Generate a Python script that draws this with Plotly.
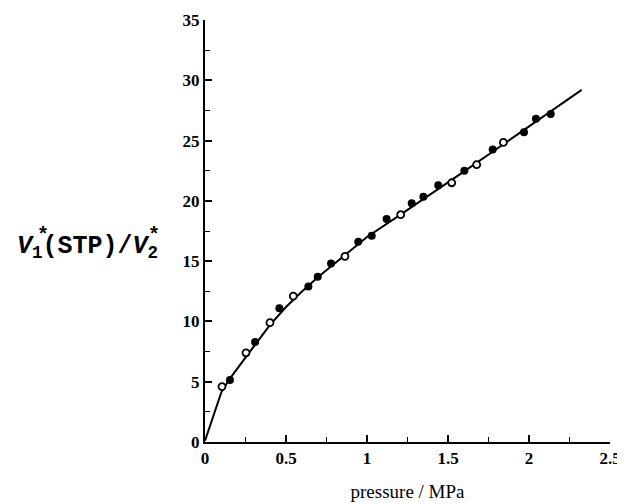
import plotly.graph_objects as go

# filled-circle data
p_filled = [0.154, 0.309, 0.459, 0.638, 0.696, 0.778, 0.946, 1.029, 1.121, 1.276,
            1.348, 1.440, 1.601, 1.776, 1.969, 2.043, 2.134]
v_filled = [5.15, 8.3, 11.1, 12.9, 13.7, 14.8, 16.6, 17.1, 18.5, 19.8,
            20.35, 21.3, 22.5, 24.25, 25.7, 26.8, 27.2]

# open-circle data
p_open = [0.105, 0.253, 0.401, 0.545, 0.864, 1.208, 1.523, 1.677, 1.842]
v_open = [4.6, 7.4, 9.9, 12.1, 15.4, 18.85, 21.5, 23.0, 24.85]

# fitted curve
p_curve = [0.0, 0.05, 0.1, 0.15, 0.2, 0.3, 0.4, 0.5, 0.6, 0.7, 0.8, 0.9, 1.0,
           1.2, 1.4, 1.6, 1.8, 2.0, 2.2, 2.325]
v_curve = [0.1, 2.1, 4.1, 5.2, 6.1, 7.9, 9.7, 11.2, 12.5, 13.7, 14.8, 15.9, 17.0,
           18.8, 20.6, 22.45, 24.3, 26.15, 28.0, 29.2]

x_ticks = [0, 0.5, 1, 1.5, 2, 2.5]
x_ticklabels = ["0", "0.5", "1", "1.5", "2", "2.5"]
y_ticks = [0, 5, 10, 15, 20, 25, 30, 35]

fig = go.Figure()
fig.add_trace(go.Scatter(x=p_curve, y=v_curve, mode="lines",
                         line=dict(color="black", width=2), showlegend=False))
fig.add_trace(go.Scatter(x=p_filled, y=v_filled, mode="markers",
                         marker=dict(symbol="circle", size=8, color="black"),
                         showlegend=False))
fig.add_trace(go.Scatter(x=p_open, y=v_open, mode="markers",
                         marker=dict(symbol="circle", size=7, color="white",
                                     line=dict(color="black", width=1.8)),
                         showlegend=False))

tickfont = dict(family="Liberation Serif", size=17, color="black")
fig.update_layout(
    width=617, height=496,
    margin=dict(l=197, r=15, t=12, b=62),
    paper_bgcolor="white", plot_bgcolor="white",
    xaxis=dict(range=[0, 2.5], tickvals=x_ticks, ticktext=["<b>%s</b>" % t for t in x_ticklabels],
               automargin=False,
               showgrid=False, zeroline=False, showline=True, linecolor="black", linewidth=2,
               ticks="inside", ticklen=7, tickwidth=1.5, tickcolor="black",
               minor=dict(dtick=0.25, ticks="inside", ticklen=5, tickwidth=1.2, tickcolor="black"),
               tickfont=tickfont,
               title=dict(text="pressure / MPa",
                          font=dict(family="Liberation Serif", size=19, color="black"),
                          standoff=17)),
    yaxis=dict(range=[0, 35], tickvals=y_ticks, ticktext=["<b>%d</b>" % t for t in y_ticks],
               automargin=False,
               showgrid=False, zeroline=False, showline=True, linecolor="black", linewidth=2,
               ticks="inside", ticklen=7, tickwidth=1.5, tickcolor="black",
               minor=dict(dtick=2.5, ticks="inside", ticklen=5, tickwidth=1.2, tickcolor="black"),
               tickfont=tickfont),
)

# y-axis label built from pieces so the asterisks sit above the subscripts
lab_font = dict(family="Liberation Mono", size=25, color="black")
fig.add_annotation(xref="paper", yref="paper", x=-0.291, y=0.462, xanchor="center", yanchor="middle",
                   text="<b><i>V</i><sub>1</sub>(STP)/<i>V</i><sub>2</sub></b>",
                   showarrow=False, font=lab_font)
star_font = dict(family="Liberation Mono", size=20, color="black")
fig.add_annotation(xref="paper", yref="paper", x=-0.40, y=0.49, xanchor="center", yanchor="middle",
                   text="<b>*</b>", showarrow=False, font=star_font)
fig.add_annotation(xref="paper", yref="paper", x=-0.126, y=0.49, xanchor="center", yanchor="middle",
                   text="<b>*</b>", showarrow=False, font=star_font)

fig.write_html("out.html")
